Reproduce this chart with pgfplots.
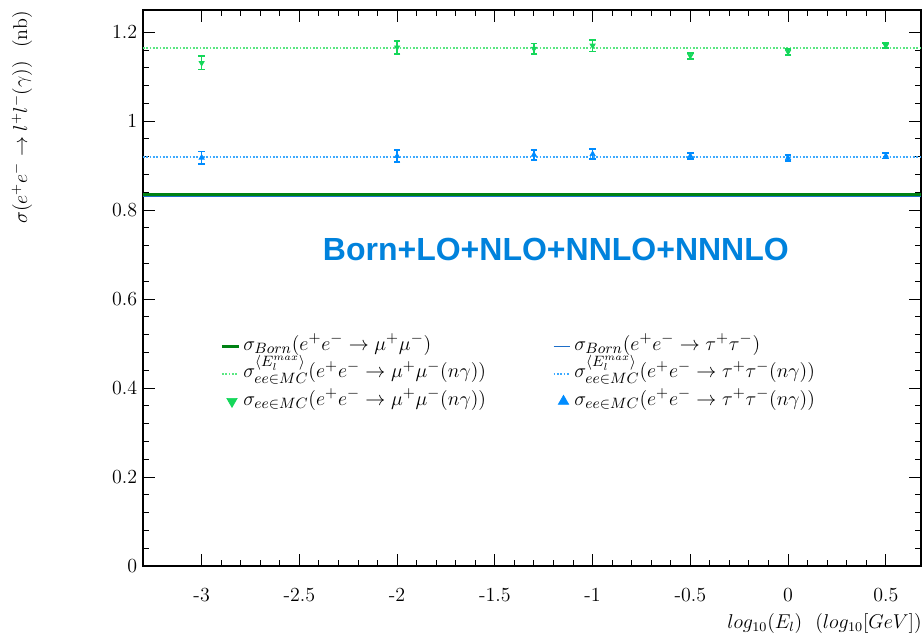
\documentclass[border=0pt]{standalone}
\usepackage{pgfplots}
\pgfplotsset{compat=1.18}
\usepackage{fontspec}
\newfontfamily\titlefont{Liberation Sans}

\definecolor{borngreen}{RGB}{0,130,20}
\definecolor{bornblue}{RGB}{30,110,200}
\definecolor{mcgreen}{RGB}{20,215,90}
\definecolor{mcblue}{RGB}{0,140,255}
\definecolor{lgreen}{RGB}{90,230,130}
\definecolor{lblue}{RGB}{60,170,255}
\definecolor{titleblue}{RGB}{0,130,220}

\pgfplotsset{
    shortline/.style={legend image code/.code={\draw[##1] (0pt,0pt) -- (10pt,0pt);}},
    shortmark/.style={legend image code/.code={\draw[mark repeat=2,mark phase=2,##1]
        plot coordinates {(0pt,0pt) (6pt,0pt) (12pt,0pt)};}},
}

\begin{document}
\begin{tikzpicture}
\begin{axis}[
    scale only axis,
    width=466.8pt,
    height=333.6pt,
    xmin=-3.3, xmax=0.68,
    ymin=0, ymax=1.25,
    xtick={-3,-2.5,-2,-1.5,-1,-0.5,0,0.5},
    xticklabels={-3,-2.5,-2,-1.5,-1,-0.5,0,0.5},
    ytick={0,0.2,0.4,0.6,0.8,1,1.2},
    yticklabels={0,0.2,0.4,0.6,0.8,1,1.2},
    minor x tick num=4,
    minor y tick num=4,
    tick align=inside,
    major tick length=7pt,
    minor tick length=3.5pt,
    axis line style={line width=0.8pt},
    tick style={black, line width=0.6pt},
    tick label style={font=\large},
    xticklabel style={yshift=-10pt},
    xlabel={\ensuremath{log_{10}(E_l)\ \ (log_{10}[GeV])}},
    xlabel style={at={(rel axis cs:1,0)}, anchor=north east, yshift=-25pt, xshift=4pt, font=\large},
    ylabel={\ensuremath{\sigma(e^+e^-\to l^+l^-(\gamma))\ \ \mathrm{(nb)}}},
    ylabel style={at={(rel axis cs:0,1)}, anchor=south east, yshift=63pt, xshift=3pt, font=\large},
    legend columns=2,
    legend cell align=left,
    legend style={draw=none, fill=none, font=\fontsize{13}{15}\selectfont,
        at={(axis cs:-2.93,0.533)}, anchor=north west,
        nodes={text height=8.5pt, text depth=4pt},
        /tikz/every even column/.append style={column sep=38pt}},
    legend entries={
        {\ensuremath{\sigma_{Born}(e^+e^-\to\mu^+\mu^-)}},
        {\ensuremath{\sigma_{Born}(e^+e^-\to\tau^+\tau^-)}},
        {\ensuremath{\sigma^{\langle E_l^{max}\rangle}_{ee\in MC}(e^+e^-\to\mu^+\mu^-(n\gamma))}},
        {\ensuremath{\sigma^{\langle E_l^{max}\rangle}_{ee\in MC}(e^+e^-\to\tau^+\tau^-(n\gamma))}},
        {\ensuremath{\sigma_{ee\in MC}(e^+e^-\to\mu^+\mu^-(n\gamma))}},
        {\ensuremath{\sigma_{ee\in MC}(e^+e^-\to\tau^+\tau^-(n\gamma))}}
    },
]
% Born cross sections (blue drawn first, green on top)
\addplot[bornblue, line width=0.8pt, mark=none, forget plot]
    coordinates {(-3.3,0.8305) (0.68,0.8305)};
\addplot[borngreen, line width=1.6pt, mark=none, shortline]
    coordinates {(-3.3,0.8356) (0.68,0.8356)};
\addlegendimage{bornblue, line width=0.8pt, shortline}

% MC average lines
\addplot[lgreen, line width=1pt, densely dotted, mark=none, shortline]
    coordinates {(-3.3,1.1644) (0.68,1.1644)};
\addplot[lblue, line width=1pt, densely dotted, mark=none, shortline]
    coordinates {(-3.3,0.919) (0.68,0.919)};

% MC points
\addplot[color=mcgreen, only marks, mark=triangle*, mark options={rotate=180, scale=0.9},
    shortmark, legend image post style={mark size=4pt},
    error bars/.cd, y dir=both, y explicit,
    error bar style={draw=mcgreen, line width=1pt},
    error mark options={draw=mcgreen, rotate=90, mark size=2pt, line width=1pt}]
    coordinates {
    (-3,1.131) +- (0,0.015)
    (-2,1.166) +- (0,0.015)
    (-1.3,1.163) +- (0,0.012)
    (-1,1.170) +- (0,0.013)
    (-0.5,1.147) +- (0,0.007)
    (0,1.156) +- (0,0.007)
    (0.5,1.170) +- (0,0.006)
    };
\addplot[color=mcblue, only marks, mark=triangle*, mark options={scale=0.9},
    shortmark, legend image post style={mark size=4pt},
    error bars/.cd, y dir=both, y explicit,
    error bar style={draw=mcblue, line width=1pt},
    error mark options={draw=mcblue, rotate=90, mark size=2pt, line width=1pt}]
    coordinates {
    (-3,0.918) +- (0,0.014)
    (-2,0.9215) +- (0,0.013)
    (-1.3,0.9245) +- (0,0.011)
    (-1,0.926) +- (0,0.011)
    (-0.5,0.9215) +- (0,0.007)
    (0,0.917) +- (0,0.007)
    (0.5,0.922) +- (0,0.006)
    };

\node[font=\titlefont\bfseries\fontsize{19.2}{23}\selectfont, text=titleblue]
    at (axis cs:-1.188,0.711) {Born+LO+NLO+NNLO+NNNLO};
\end{axis}
\pgfresetboundingbox
\path (current axis.south west) ++(-85.8pt,-40.2pt) rectangle ++(553.2pt,379.8pt);
\end{tikzpicture}
\end{document}
